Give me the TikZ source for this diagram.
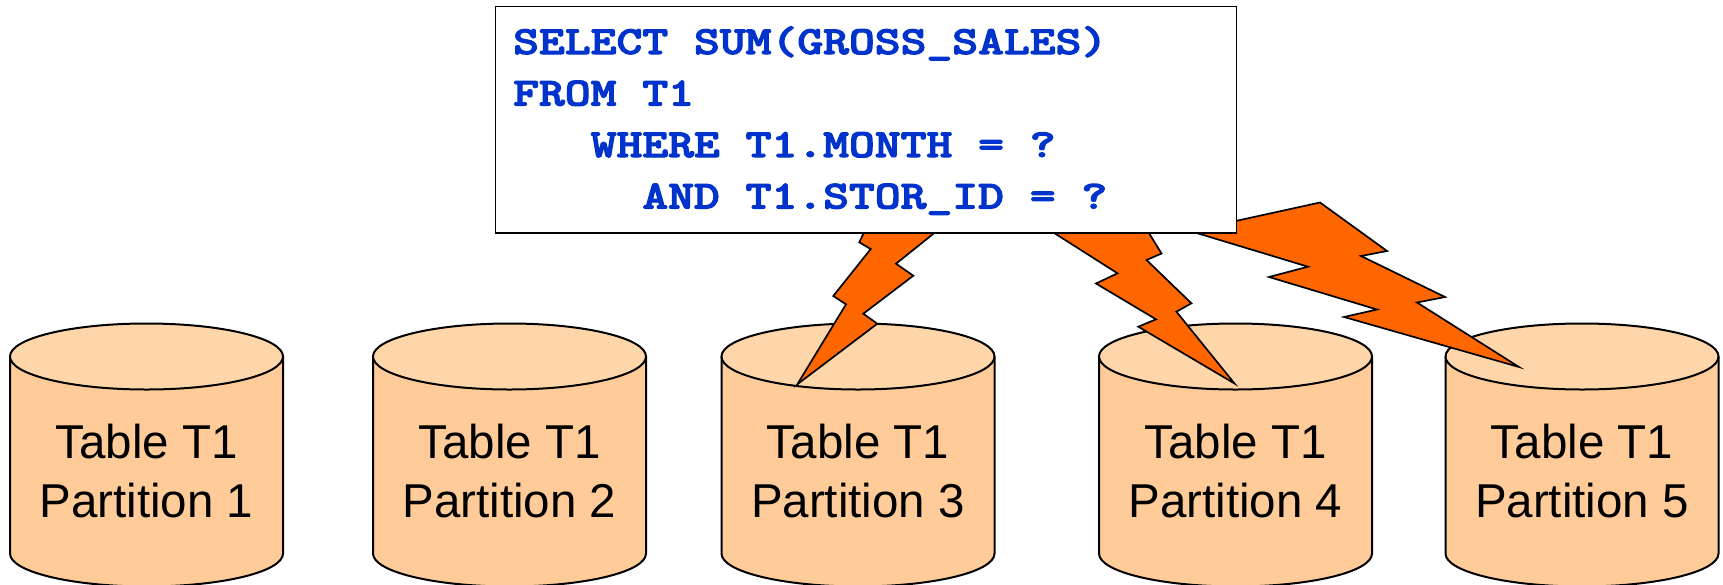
\documentclass[tikz,border=0pt]{standalone}
\usepackage{fontspec}
\setmainfont{Liberation Sans}
\newfontfamily\sqlfont{lmmonolt10-bold.otf}[FakeBold=2.5]
\usepackage{graphicx}
\definecolor{canside}{RGB}{255,204,153}
\definecolor{cantop}{RGB}{255,214,170}
\definecolor{boltorange}{RGB}{255,102,0}
\definecolor{sqlblue}{RGB}{0,51,204}
% widened heavy typewriter for the query text
\newcommand\sqltext[1]{\scalebox{1.23}[1]{\sqlfont #1}}

\begin{document}
\begin{tikzpicture}[x=1pt,y=-1pt,
  canline/.style={draw=black,line width=2pt},
  boltshape/.style={fill=boltorange,draw=black,line width=1.7pt,line join=miter},
  sqlbox/.style={draw=black,fill=white,line width=1.6pt,inner sep=0pt},
  sqlline/.style={anchor=base west,inner sep=0pt,text=sqlblue,font=\fontsize{40}{48}\selectfont},
  cantext/.style={anchor=base,inner sep=0pt,font=\fontsize{47.5}{57}\selectfont}]

\useasboundingbox (0,0) rectangle (1723,584);

% the five table partitions
\foreach \cx/\n in {146.5/1,509.5/2,858/3,1235.5/4,1582/5}{
  \fill[canside] (\cx-136.5,356.5) -- (\cx-136.5,553.5)
     arc[start angle=180,end angle=0,x radius=136.5,y radius=33]
     -- (\cx+136.5,356.5) -- cycle;
  \draw[canline] (\cx-136.5,356.5) -- (\cx-136.5,553.5)
     arc[start angle=180,end angle=0,x radius=136.5,y radius=33]
     -- (\cx+136.5,356.5);
  \draw[canline,fill=cantop] (\cx,356.5) ellipse[x radius=136.5,y radius=33];
  \node[cantext] (t\n) at (\cx,458.5) {Table T1};
  \node[cantext] (p\n) at (\cx,517) {Partition \n};
}

% lightning bolts from the query to partitions 3, 4 and 5
\draw[boltshape] (867,226) -- (859.3,242.3) -- (870.7,249) -- (833.3,296)
  -- (846,304.3) -- (797.3,384.3) -- (877.3,323.7) -- (863.3,313.7)
  -- (913.3,275.7) -- (896,263.7) -- (943,226) -- cycle;
\draw[boltshape] (1040,224) -- (1117.5,273.3) -- (1096,283.5) -- (1156,319.3)
  -- (1138.3,326.7) -- (1234.5,383.5) -- (1176.4,311.7) -- (1191.4,303.3)
  -- (1146.5,260) -- (1161.5,253.5) -- (1144,225) -- cycle;
\draw[boltshape] (1190,231) -- (1320,202.5) -- (1387,251) -- (1361,256)
  -- (1445,297) -- (1417,302.5) -- (1519,367) -- (1344,317) -- (1377,309.5)
  -- (1269,277) -- (1308,266.7) -- cycle;

% query box
\node[sqlbox,anchor=north west,minimum width=741,minimum height=226.5] (query) at (494.7,5.5) {};
\node[sqlline] (q1) at (513,54) {\sqltext{SELECT SUM(GROSS\_SALES)}};
\node[sqlline] (q2) at (513,105.5) {\sqltext{FROM T1}};
\node[sqlline] (q3) at (513+3*25.83,157) {\sqltext{WHERE T1.MONTH = ?}};
\node[sqlline] (q4) at (513+5*25.83,208.5) {\sqltext{AND T1.STOR\_ID = ?}};
\end{tikzpicture}
\end{document}
